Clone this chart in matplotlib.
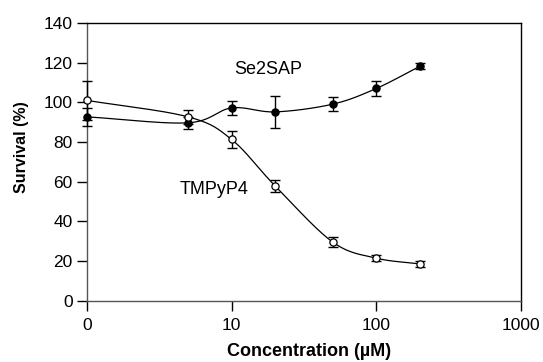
import numpy as np
import matplotlib
matplotlib.use("Agg")
import matplotlib.pyplot as plt

plt.rcParams['font.family'] = ['Liberation Sans', 'DejaVu Sans']

conc = [0, 5, 10, 20, 50, 100, 200]
tmpyp4 = [101.0, 92.7, 81.3, 57.9, 29.6, 21.5, 18.6]
tmpyp4_err = [10.0, 3.5, 4.5, 3.0, 2.5, 1.5, 1.5]
se2sap = [92.7, 89.7, 97.2, 95.2, 99.1, 107.0, 118.2]
se2sap_err = [4.5, 3.0, 3.5, 8.0, 3.5, 4.0, 1.5]
xticks = [1, 10, 100, 1000]
xticklabels = ["0", "10", "100", "1000"]
yticks = [0, 20, 40, 60, 80, 100, 120, 140]


def plot_x(c):
    # zero concentration is drawn at the "1" position of the log axis
    return np.array([1.0 if v == 0 else v for v in c], dtype=float)


def catmull(xs, ys, n=30):
    xs = np.asarray(xs, float)
    ys = np.asarray(ys, float)
    px = np.concatenate([[2 * xs[0] - xs[1]], xs, [2 * xs[-1] - xs[-2]]])
    py = np.concatenate([[2 * ys[0] - ys[1]], ys, [2 * ys[-1] - ys[-2]]])
    outx, outy = [], []
    for i in range(1, len(px) - 2):
        t = np.linspace(0, 1, n)
        p0, p1, p2, p3 = px[i - 1], px[i], px[i + 1], px[i + 2]
        q0, q1, q2, q3 = py[i - 1], py[i], py[i + 1], py[i + 2]
        fx = 0.5 * ((2 * p1) + (-p0 + p2) * t + (2 * p0 - 5 * p1 + 4 * p2 - p3) * t ** 2 + (-p0 + 3 * p1 - 3 * p2 + p3) * t ** 3)
        fy = 0.5 * ((2 * q1) + (-q0 + q2) * t + (2 * q0 - 5 * q1 + 4 * q2 - q3) * t ** 2 + (-q0 + 3 * q1 - 3 * q2 + q3) * t ** 3)
        outx.append(fx)
        outy.append(fy)
    return np.concatenate(outx), np.concatenate(outy)


fig = plt.figure(figsize=(5.43, 3.62), dpi=100)
ax = fig.add_axes([0.160, 0.169, 0.7995, 0.7675])
ax.set_xscale('log')

x = plot_x(conc)
for yv, err, fc in [(se2sap, se2sap_err, 'black'), (tmpyp4, tmpyp4_err, 'white')]:
    lx, ly = catmull(np.log10(x), yv)
    ax.plot(10 ** lx, ly, color='black', lw=0.9, zorder=2)
    ax.errorbar(x, yv, yerr=err, fmt='none', ecolor='black', elinewidth=1.0,
                capsize=3.8, capthick=1.0, zorder=3, clip_on=False)
    ax.plot(x, yv, 'o', ms=5.2, mfc=fc, mec='black', mew=0.9, ls='none',
            zorder=4, clip_on=False)

ax.set_xlim(1, 1000)
ax.set_ylim(0, 140)
ax.set_xticks(xticks)
ax.set_xticklabels(xticklabels)
ax.xaxis.set_minor_locator(matplotlib.ticker.NullLocator())
ax.set_yticks(yticks)
ax.tick_params(axis='both', direction='out', labelsize=12.5, colors='black', width=1.0)
ax.tick_params(axis='y', length=7.2, pad=3)
ax.tick_params(axis='x', length=7.2, pad=5)
for s in ['left', 'bottom']:
    ax.spines[s].set_color('#555555')
for s in ax.spines.values():
    s.set_linewidth(1.0)

ax.text(0.417, 0.831, 'Se2SAP', transform=ax.transAxes, fontsize=13, ha='center', va='center')
ax.text(0.294, 0.399, 'TMPyP4', transform=ax.transAxes, fontsize=13, ha='center', va='center')

fig.text(0.569, 0.028, 'Concentration (µM)', fontsize=13, fontweight='bold',
         ha='center', va='center')
fig.text(0.0405, 0.5925, 'Survival (%)', fontsize=11.5, fontweight='bold',
         ha='center', va='center', rotation=90)

fig.savefig('out.png', dpi=100)
